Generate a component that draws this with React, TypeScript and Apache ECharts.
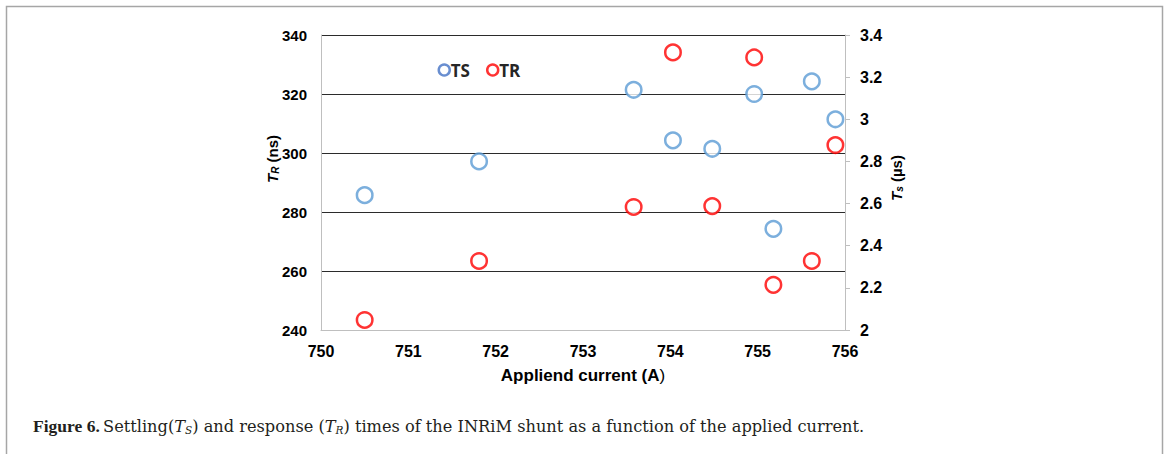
import React, { useEffect, useRef } from "react";
import * as echarts from "echarts";

const currentA = [750.5, 751.81, 753.58, 754.03, 754.48, 754.96, 755.18, 755.62, 755.89];
const tsMicro = [2.64, 2.8, 3.14, 2.9, 2.86, 3.12, 2.48, 3.18, 3.0];
const trNano = [243.4, 263.4, 281.7, 334.1, 282.0, 332.4, 255.3, 263.4, 302.7];
const xTicks = { min: 750, max: 756, interval: 1 };
const leftTicks = { min: 240, max: 340, interval: 20 };
const rightTicks = { min: 2.0, max: 3.4, interval: 0.2 };

export default function App() {
  const ref = useRef<HTMLDivElement>(null);
  useEffect(() => {
    document.body.style.margin = "0";
    const chart = echarts.init(ref.current!, null, { renderer: "svg" });
    const sans = "Liberation Sans, Arial, sans-serif";
    const bold = { fontFamily: sans, fontWeight: "bold" as const, color: "#000" };
    const titleRich = {
      t: { fontFamily: sans, fontWeight: "bold", fontStyle: "italic", fontSize: 15, fill: "#000" },
      s: { fontFamily: sans, fontWeight: "bold", fontStyle: "italic", fontSize: 10, fill: "#000", verticalAlign: "bottom", padding: [6, 0, 0, 0] },
      b: { fontFamily: sans, fontWeight: "bold", fontSize: 15, fill: "#000" },
    };
    chart.setOption({
      animation: false,
      backgroundColor: "#fff",
      grid: { left: 321, right: 325, top: 35, bottom: 124 },
      legend: {
        left: 437.5,
        top: 61.5,
        padding: 0,
        itemWidth: 11,
        itemHeight: 11,
        itemGap: 16,
        icon: "circle",
        textStyle: { fontFamily: "Open Sans, sans-serif", fontSize: 17, fontWeight: 700, color: "#262626", padding: [0, 0, 0, -4] },
        data: [
          { name: "TS", itemStyle: { color: "#fff", borderColor: "#4472C4", borderWidth: 2.5 } },
          { name: "TR", itemStyle: { color: "#fff", borderColor: "#FF0000", borderWidth: 2.5 } },
        ],
      },
      xAxis: {
        type: "value",
        min: xTicks.min,
        max: xTicks.max,
        interval: xTicks.interval,
        axisLine: { show: true, lineStyle: { color: "#BFBFBF", width: 1 } },
        axisTick: { show: false },
        splitLine: { show: false },
        axisLabel: { ...bold, fontSize: 16, margin: 13 },
      },
      yAxis: [
        {
          type: "value",
          min: leftTicks.min,
          max: leftTicks.max,
          interval: leftTicks.interval,
          axisLine: { show: true, lineStyle: { color: "#BFBFBF", width: 1 } },
          axisTick: { show: false },
          splitLine: { show: true, lineStyle: { color: "#2b2b2b", width: 1.2 } },
          axisLabel: { ...bold, fontSize: 15, margin: 14 },
        },
        {
          type: "value",
          position: "right",
          min: rightTicks.min,
          max: rightTicks.max,
          interval: rightTicks.interval,
          axisLine: { show: true, lineStyle: { color: "#BFBFBF", width: 1 } },
          axisTick: { show: true, length: 5, lineStyle: { color: "#BFBFBF" } },
          splitLine: { show: false },
          axisLabel: {
            ...bold,
            fontSize: 16,
            margin: 15,
            formatter: (v: number) => String(Math.round(v * 10) / 10),
          },
        },
      ],
      series: [
        {
          name: "TS",
          type: "scatter",
          yAxisIndex: 1,
          symbol: "circle",
          symbolSize: 15.5,
          itemStyle: { color: "#fff", borderColor: "#5B9BD5", borderWidth: 2.5 },
          data: currentA.map((x, i) => [x, tsMicro[i]]),
        },
        {
          name: "TR",
          type: "scatter",
          yAxisIndex: 0,
          symbol: "circle",
          symbolSize: 15.5,
          itemStyle: { color: "#fff", borderColor: "#FF0000", borderWidth: 2.5 },
          data: currentA.map((x, i) => [x, trNano[i]]),
        },
      ],
      graphic: [
        {
          type: "polyline",
          shape: { points: [[6.5, 460], [6.5, 6.5], [1162.5, 6.5], [1162.5, 460]] },
          style: { stroke: "#A6A6A6", lineWidth: 1.5, fill: "none" },
          silent: true,
        },
        {
          type: "text",
          x: 583,
          y: 375,
          style: {
            text: "{b|Appliend current (A}{n|)}",
            align: "center",
            verticalAlign: "middle",
            rich: {
              b: { fontFamily: sans, fontWeight: "bold", fontSize: 17, fill: "#000" },
              n: { fontFamily: sans, fontSize: 17, fill: "#000" },
            },
          },
        },
        {
          type: "text",
          x: 272,
          y: 159,
          rotation: Math.PI / 2,
          style: {
            text: "{t|T}{s|R}{b| (ns)}",
            align: "center",
            verticalAlign: "middle",
            rich: titleRich,
          },
        },
        {
          type: "text",
          x: 896,
          y: 178,
          rotation: Math.PI / 2,
          style: {
            text: "{t|T}{s|s}{b| (µs)}",
            align: "center",
            verticalAlign: "middle",
            rich: titleRich,
          },
        },
        {
          type: "text",
          x: 33,
          y: 426,
          style: {
            text: "{b|Figure 6.} {n|Settling(}{i|T}{sub|S}{n|) and response (}{i|T}{sub|R}{n|) times of the INRiM shunt as a function of the applied current.}",
            verticalAlign: "middle",
            rich: {
              b: { fontFamily: "Liberation Serif, serif", fontWeight: "bold", fontSize: 17.5, fill: "#231f20" },
              n: { fontFamily: "DejaVu Serif, serif", fontSize: 16.2, fill: "#231f20" },
              i: { fontFamily: "DejaVu Serif, serif", fontStyle: "italic", fontSize: 16.2, fill: "#231f20" },
              sub: { fontFamily: "DejaVu Serif, serif", fontStyle: "italic", fontSize: 10.5, fill: "#231f20", verticalAlign: "bottom", padding: [8, 0, 0, 0] },
            },
          },
        },
      ],
    });
    return () => chart.dispose();
  }, []);
  return <div ref={ref} style={{ width: 1170, height: 454 }} />;
}
